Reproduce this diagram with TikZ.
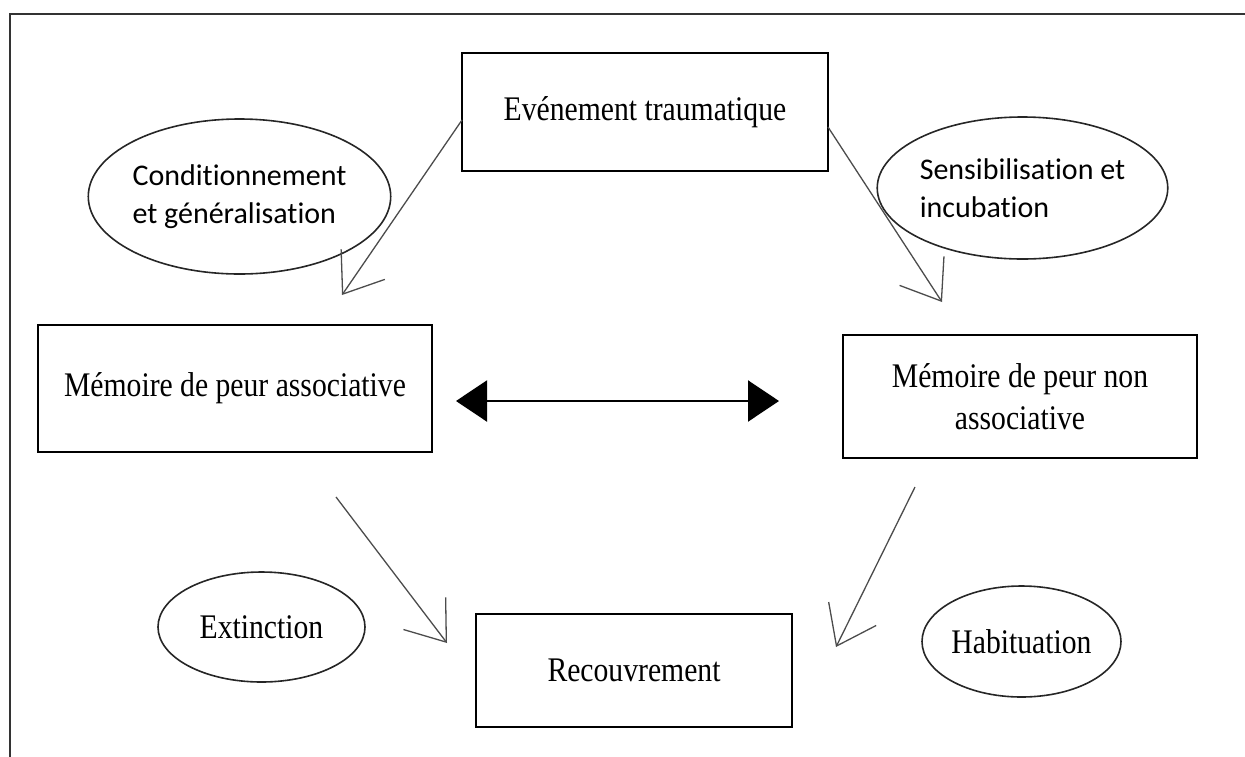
\documentclass[tikz,border=0pt]{standalone}
\usepackage{fontspec}
\setmainfont{Liberation Serif}[FakeStretch=0.86]
\newfontfamily\calib{Carlito}[Ligatures=NoCommon]
\usetikzlibrary{shapes.geometric,arrows.meta}
\tikzset{
 box/.style={draw=black, line width=2pt, rectangle, inner sep=0pt, align=center, font=\fontsize{34.5}{42}\selectfont},
 bubble/.style={draw=black!85, line width=1.6pt, ellipse, inner sep=0pt},
 sansbubble/.style={bubble, align=left, font=\calib\fontsize{30}{38}\selectfont},
 serifbubble/.style={bubble, font=\fontsize{34.5}{40}\selectfont},
 thinarrow/.style={draw=black!70, line width=1.3pt, -{Straight Barb[length=36pt,width=53pt]}},
 bothway/.style={draw=black, line width=2.2pt, {Triangle[length=31pt,width=41pt]}-{Triangle[length=31pt,width=41pt]}},
 frame/.style={draw=black!80, line width=2pt}
}
\begin{document}
\begin{tikzpicture}[x=1pt,y=-1pt]
\useasboundingbox (0,0) rectangle (1245,756);
\begin{scope}
\clip (0,0) rectangle (1245,756);
\draw[frame] (10,14) rectangle (1300,800);
\end{scope}

% boxes
\node[box, minimum width=366pt, minimum height=118pt] (evt) at (645,112) {Evénement traumatique};
\node[box, minimum width=394pt, minimum height=127pt] (assoc) at (235,388.5) {Mémoire de peur associative};
\node[box, minimum width=354pt, minimum height=123pt] (nonassoc) at (1020,396.5) {Mémoire de peur non\\associative};
\node[box, minimum width=316pt, minimum height=113pt] (recov) at (634,670.5) {Recouvrement};

% ellipses
\node[sansbubble, minimum width=245pt, minimum height=155pt] (cond) at (239.5,196.5) {Conditionnement\\et généralisation};
\node[sansbubble, minimum width=249pt, minimum height=142pt] (sens) at (1022.5,188) {Sensibilisation et\\incubation};
\node[serifbubble, minimum width=207pt, minimum height=110pt] (ext) at (261.5,627) {Extinction};
\node[serifbubble, minimum width=199pt, minimum height=111pt] (hab) at (1021.5,641.5) {Habituation};

% arrow ends
\coordinate (a1s) at (462,120);
\coordinate (a1e) at (342,295);
\coordinate (a2s) at (828,127);
\coordinate (a2e) at (942,302);
\coordinate (a3s) at (336,497);
\coordinate (a3e) at (447,643);
\coordinate (a4s) at (915,487);
\coordinate (a4e) at (836,647);
\coordinate (dl) at (456,401);
\coordinate (dr) at (779,401);

\draw[thinarrow] (a1s) -- (a1e);
\draw[thinarrow] (a2s) -- (a2e);
\draw[thinarrow] (a3s) -- (a3e);
\draw[thinarrow] (a4s) -- (a4e);
\draw[bothway] (dl) -- (dr);
\end{tikzpicture}
\end{document}
